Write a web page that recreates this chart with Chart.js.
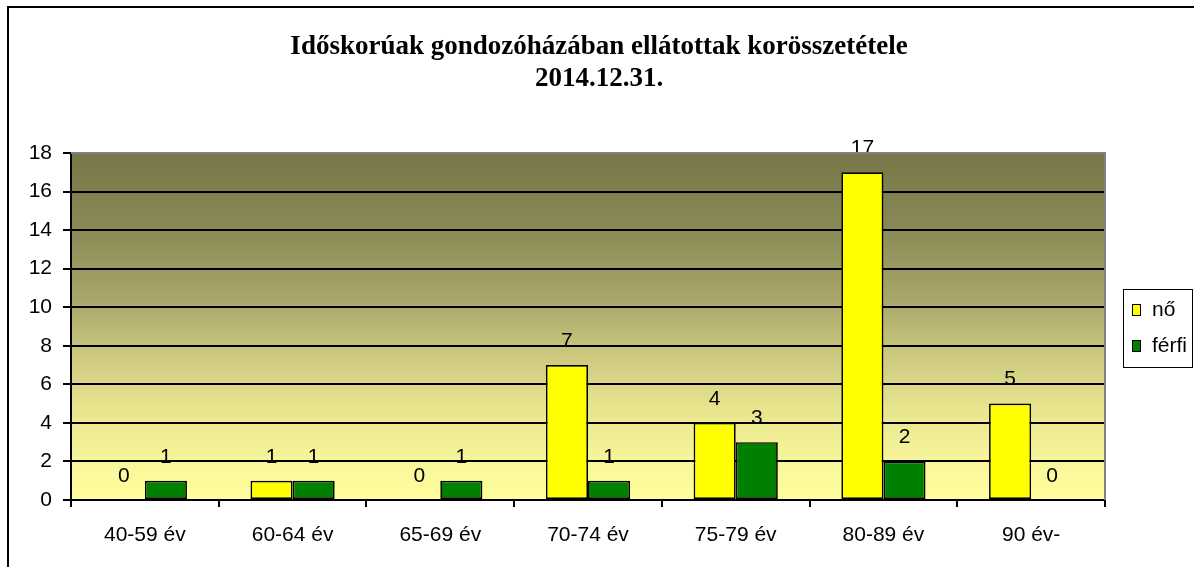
<!DOCTYPE html>
<html>
<head>
<meta charset="utf-8">
<script src="https://cdn.jsdelivr.net/npm/chart.js@4.4.1/dist/chart.umd.min.js"></script>
<style>
  html, body { margin: 0; padding: 0; background: #ffffff; }
  #wrap { width: 1194px; height: 567px; position: relative; }
</style>
</head>
<body>
<div id="wrap"><canvas id="c" width="1194" height="567"></canvas></div>
<script>
// ---- data ----
const titleLines = ['Időskorúak gondozóházában ellátottak korösszetétele', '2014.12.31.'];
const categories = ['40-59 év', '60-64 év', '65-69 év', '70-74 év', '75-79 év', '80-89 év', '90 év-'];
const seriesNames = ['nő', 'férfi'];
const noValues = [0, 1, 0, 7, 4, 17, 5];
const ferfiValues = [1, 1, 1, 1, 3, 2, 0];
const yMin = 0, yMax = 18, yStep = 2;

const sansFont = "'Liberation Sans', Arial, sans-serif";
const serifFont = "'Liberation Serif', 'Times New Roman', serif";
const labelSize = 21;

const titlePlugin = {
  id: 'titlePlugin',
  afterDraw(chart) {
    const ctx = chart.ctx;
    ctx.save();
    ctx.font = 'bold 27px ' + serifFont;
    ctx.fillStyle = '#000000';
    ctx.textAlign = 'center';
    ctx.textBaseline = 'middle';
    const lines = chart.options.plugins.titlePlugin.lines;
    lines.forEach((t, i) => ctx.fillText(t, 599, 47 + i * 32));
    ctx.restore();
  }
};

const bgPlugin = {
  id: 'bgPlugin',
  beforeDraw(chart) {
    const ctx = chart.ctx, a = chart.chartArea;
    ctx.save();
    ctx.fillStyle = '#ffffff';
    ctx.fillRect(0, 0, chart.width, chart.height);
    const g = ctx.createLinearGradient(0, a.top, 0, a.bottom);
    g.addColorStop(0, '#767648');
    g.addColorStop(0.22, '#8a8a58');
    g.addColorStop(0.42, '#a8a669');
    g.addColorStop(0.58, '#cbc87f');
    g.addColorStop(0.74, '#e8e58f');
    g.addColorStop(0.88, '#f7f59a');
    g.addColorStop(1, '#ffff9e');
    ctx.fillStyle = g;
    ctx.fillRect(a.left, a.top, a.right - a.left, a.bottom - a.top);
    ctx.restore();
  },
  afterDraw(chart) {
    const ctx = chart.ctx, a = chart.chartArea;
    ctx.save();
    ctx.strokeStyle = '#808080';
    ctx.lineWidth = 2;
    ctx.beginPath();
    ctx.moveTo(a.left, a.top);
    ctx.lineTo(a.right, a.top);
    ctx.lineTo(a.right, a.bottom);
    ctx.stroke();
    ctx.strokeStyle = '#000000';
    ctx.lineWidth = 2;
    ctx.strokeRect(8, 7, 3000, 3000);
    ctx.restore();
  }
};

const valueLabels = {
  id: 'valueLabels',
  afterDatasetsDraw(chart) {
    const ctx = chart.ctx;
    ctx.save();
    ctx.font = labelSize + 'px ' + sansFont;
    ctx.fillStyle = '#000000';
    ctx.textAlign = 'center';
    ctx.textBaseline = 'middle';
    chart.data.datasets.forEach((ds, i) => {
      const meta = chart.getDatasetMeta(i);
      meta.data.forEach((el, j) => {
        ctx.fillText(String(ds.data[j]), el.x, el.y - 24);
      });
    });
    ctx.restore();
  }
};

const boxLegend = {
  id: 'boxLegend',
  afterDraw(chart) {
    const ctx = chart.ctx, a = chart.chartArea;
    const left = a.right + 18, top = 289, w = 69, rowH = 36;
    const n = chart.data.datasets.length;
    const h = 42 + (n - 1) * rowH;
    ctx.save();
    ctx.fillStyle = '#ffffff';
    ctx.fillRect(left, top, w, h);
    ctx.strokeStyle = '#000000';
    ctx.lineWidth = 1;
    ctx.strokeRect(left + 0.5, top + 0.5, w, h);
    ctx.font = labelSize + 'px ' + sansFont;
    ctx.textBaseline = 'middle';
    ctx.textAlign = 'left';
    chart.data.datasets.forEach((ds, i) => {
      const cy = top + 21 + i * rowH;
      ctx.fillStyle = ds.backgroundColor;
      ctx.fillRect(left + 9.5, cy - 5.5, 8, 11);
      ctx.strokeStyle = '#000000';
      ctx.lineWidth = 1;
      ctx.strokeRect(left + 9.5, cy - 5.5, 8, 11);
      ctx.fillStyle = '#000000';
      ctx.fillText(ds.label, left + 29, cy);
    });
    ctx.restore();
  }
};

new Chart(document.getElementById('c'), {
  type: 'bar',
  data: {
    labels: categories,
    datasets: [
      { label: seriesNames[0], data: noValues, backgroundColor: '#ffff00', borderColor: '#000000', borderWidth: 1.7, borderSkipped: false },
      { label: seriesNames[1], data: ferfiValues, backgroundColor: '#008000', borderColor: '#000000', borderWidth: 1.7, borderSkipped: false }
    ]
  },
  options: {
    responsive: false,
    animation: false,
    datasets: { bar: { categoryPercentage: 0.57, barPercentage: 1.0 } },
    layout: { padding: { left: 0, right: 89, top: 153, bottom: 0 } },
    plugins: {
      legend: { display: false },
      tooltip: { enabled: false },
      title: { display: false },
      titlePlugin: { lines: titleLines }
    },
    scales: {
      x: {
        offset: true,
        grid: { offset: true, drawOnChartArea: false, drawTicks: true, tickLength: 7, color: '#000000', lineWidth: 2 },
        border: { display: true, color: '#000000', width: 2 },
        ticks: { color: '#000000', font: { family: sansFont, size: labelSize }, padding: 16, maxRotation: 0, autoSkip: false },
        afterFit(scale) { scale.height = 67; }
      },
      y: {
        min: yMin, max: yMax,
        grid: {
          color: (c) => (c.tick && c.tick.value === yMax) ? '#808080' : '#000000',
          tickColor: '#000000',
          lineWidth: 2,
          tickLength: 8
        },
        border: { display: true, color: '#000000', width: 2 },
        ticks: { stepSize: yStep, color: '#000000', font: { family: sansFont, size: labelSize }, padding: 11 },
        afterFit(scale) { scale.width = 71; }
      }
    }
  },
  plugins: [bgPlugin, valueLabels, boxLegend, titlePlugin]
});
</script>
</body>
</html>
